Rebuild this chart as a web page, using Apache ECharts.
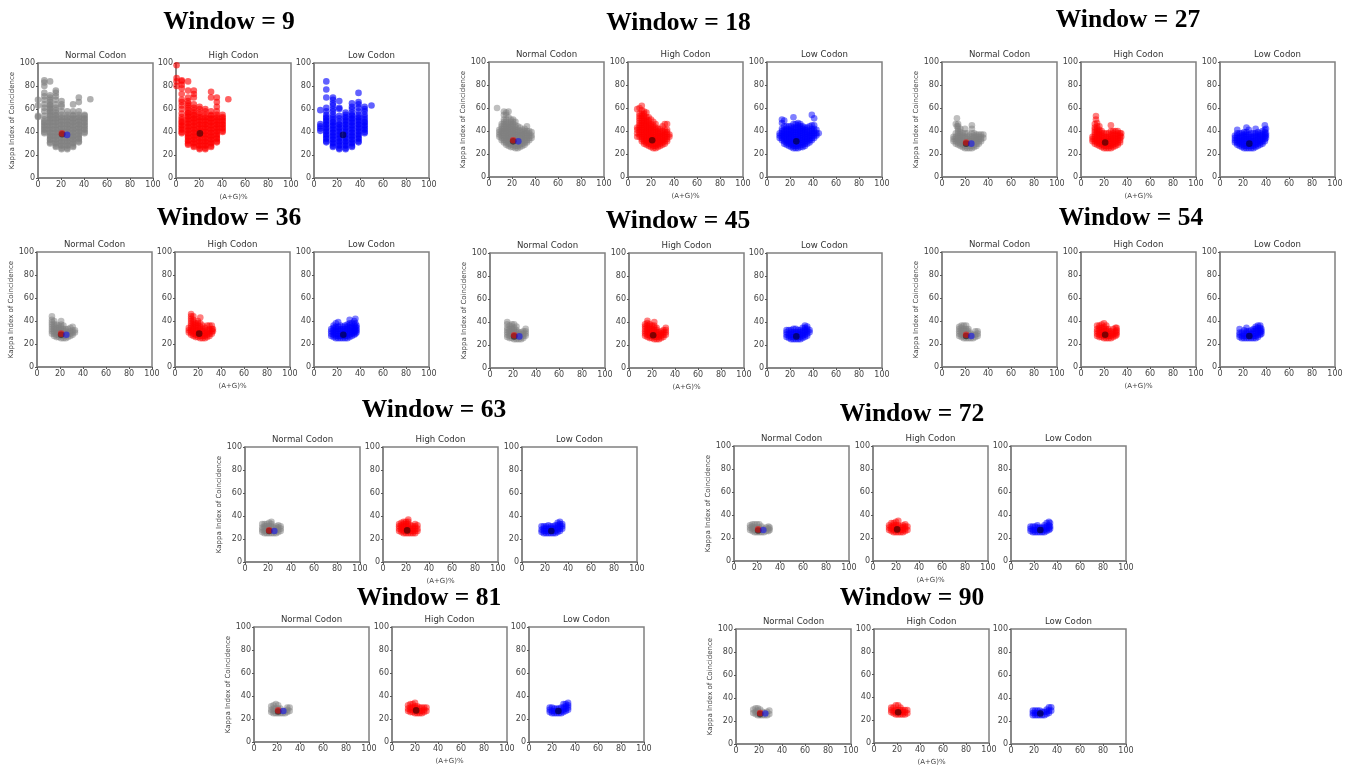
<!DOCTYPE html>
<html><head><meta charset="utf-8">
<style>html,body{margin:0;padding:0;background:#fff}#c{width:1350px;height:767px}</style>
<script src="https://cdn.jsdelivr.net/npm/echarts@6/dist/echarts.min.js"></script>
</head><body><div id="c"></div>
<script>
// Each column: [x, y, y, y, ...].
const w9Normal=[[0,53,54,63,68],[5.5,39,40,42,43,45,46,48,49,51,54,58,61,64,68,71,74,80,83,85],
[10.5,30,31,33,34,36,37,39,40,42,43,45,46,48,49,51,52,54,55,57,58,60,61,63,64,66,68,70,72,84],
[15.5,27,28,30,31,33,34,36,37,39,40,42,43,45,46,48,49,51,52,54,55,57,59,61,64,68,71,74,76],
[20.5,25,26,28,29,31,32,34,35,37,38,40,41,43,44,46,47,49,50,52,53,55,58,62,64,67],
[25.5,25,26,28,29,31,32,34,35,37,38,40,41,43,44,46,47,49,50,52,53,55,58],
[30.5,27,28,30,31,33,34,36,37,39,40,42,43,45,46,48,49,51,52,54,55,58,64],
[35.5,31,32,34,35,37,38,40,41,43,44,46,47,49,50,52,53,55,58,66,70],
[40.5,39,40,42,43,45,46,48,49,51,52,54,55],[45.5,68.5]];
const w9High=[[0.5,80,84,87,98],[5,39,40,42,43,45,46,48,49,51,53,56,60,63,66,68,73,78,81,84,85],
[10.5,29,30,32,33,35,36,38,39,41,42,44,45,47,48,50,51,53,54,56,57,59,61,63,65,67,70,76,84],
[15.5,27,28,30,31,33,34,36,37,39,40,42,43,45,46,48,49,51,52,54,55,57,59,61,64,70,73,76],
[20.5,25,26,28,29,31,32,34,35,37,38,40,41,43,44,46,47,49,50,52,53,55,57,60,62],
[25.5,25,26,28,29,31,32,34,35,37,38,40,41,43,44,46,47,49,50,52,53,55,58,60],
[30.5,27,28,30,31,33,34,36,37,39,40,42,43,45,46,48,49,51,52,54,55,58,70,75],
[35.5,31,32,34,35,37,38,40,41,43,44,46,47,49,50,52,53,55,58,62,66,70],
[40.5,40,41,43,44,46,47,49,50,52,53,55],[45.5,68.5]];
const w9Low=[[5.5,41,43,45,47,59],[10.7,31,32,34,35,37,38,40,41,43,44,46,47,49,50,52,53,55,58,61,70,77,84],
[16.5,27,28,30,31,33,34,36,37,39,40,42,43,45,46,48,49,51,53,55,58,60,63,65,68,70],
[22,25,26,28,29,31,32,34,35,37,38,40,41,43,44,46,47,49,52,54,60,61,67],
[27.5,25,26,28,29,31,32,34,35,37,38,40,41,43,44,46,47,49,50,52,53,55,57],
[33,27,28,30,31,33,34,36,37,39,40,42,43,45,46,48,49,51,52,54,55,57,60,62,65],
[38.7,31,32,34,35,37,38,40,41,43,44,46,47,49,50,52,53,55,58,61,64,66,74],
[44,39,40,42,43,45,46,48,49,51,53,55,58,60,62],[50,63]];
const w18Normal=[[7,60],[9,35,37,39,41],[11,32,34,36,38,40,42,44,46],[13,30,32,34,36,38,40,42,44,46,48,50,54,57],
[15,28,30,32,34,36,38,40,42,44,46,48,50,54,56],[17,27,29,31,33,35,37,39,41,43,45,47,52,57],
[19,26,28,30,32,34,36,38,40,42,44,46,48,50],[21,26,28,30,32,34,36,38,40,42,44,46,48,50],
[23,25,27,29,31,33,35,37,39,41,43,45,48],[25,25,27,29,31,33,35,37,39,41,44],[27,26,28,30,32,34,36,38,40,43],
[29,27,29,31,33,35,37,39,41],[31,28,30,32,34,36,38,40,42],[33,30,32,34,36,38,40,44],[35,32,34,36,38,40],[37,34,36,39]];
const w18High=[[8,35,38,41,43,59],[10,35,37,39,41,43,45,47,49,51,53,55,60],[12,31,33,35,37,39,41,43,45,47,49,51,53,55,58,62],
[14,29,31,33,35,37,39,41,43,45,47,49,51,53,55,57],[16,28,30,32,34,36,38,40,42,44,46,48,50,52,56],
[18,27,29,31,33,35,37,39,41,43,45,47,49,52],[20,26,28,30,32,34,36,38,40,42,44,46,50],[22,25,27,29,31,33,35,37,39,41,43,45,48],
[24,25,27,29,31,33,35,37,39,41,43,46],[26,26,28,30,32,34,36,38,40,42],[28,27,29,31,33,35,37,39,42],
[30,28,30,32,34,36,38,40,44],[32,29,31,33,35,37,39,41,46],[34,31,33,35,37,39,41,46],[36,35,37]];
const w18Low=[[11,34,36,38],[13,32,34,36,38,40,42,47,50],[15,29,31,33,35,37,39,41,44,49],[17,28,30,32,34,36,38,40,42,44],
[19,27,29,31,33,35,37,39,41,44],[21,26,28,30,32,34,36,38,40,42,44],[23,25,27,29,31,33,35,37,39,41,43,46,52],
[25,25,27,29,31,33,35,37,39,41,43,46],[27,25,27,29,31,33,35,37,39,41,43,45,47],[29,26,28,30,32,34,36,38,40,42,44,46],
[31,26,28,30,32,34,36,38,40,42,44],[33,27,29,31,33,35,37,39,41,43],[35,29,31,33,35,37,39,41,43],[37,30,32,34,36,38,40,44],
[39,32,34,36,38,40,42,45,54],[41,34,36,38,40,42,45,51],[43,36,38,41],[45,38]];
const w27Normal=[[10,31,33,35],[12,29,31,33,35,38,46],[13,44,51],[14,28,30,32,34,36,38,40,42,44,46],[16,27,29,31,33,35,37,39,42],
[18,26,28,30,32,34,36,38],[20,25,27,29,31,33,35,38,42],[22,25,27,29,31,33,35,38],[24,25,27,29,31,33,36],
[26,25,27,29,31,33,35,38,42,45],[28,26,28,30,32,34,36,38],[30,27,29,31,33,35,37],[32,29,31,33,35,37],[34,31,33,35,37],[36,34,37]];
const w27High=[[10,31,33,35],[12,29,31,33,35,37,39,41,43,46],[13,50,53],[14,28,30,32,34,36,38,40,42,44,47],[16,27,29,31,33,35,37,39,41,44],
[18,26,28,30,32,34,36,38,40],[20,25,27,29,31,33,35,38],[22,25,27,29,31,33,35,38],[24,25,27,29,31,33,35,38],
[26,25,27,29,31,33,35,37,40,45],[28,26,28,30,32,34,36,38,40],[30,27,29,31,33,35,37,40],[32,28,30,32,34,36,38,40],[34,30,32,34,36,38],[35,35,38]];
const w27Low=[[13,30,32,34,36],[15,28,30,32,34,36,38,41],[17,27,29,31,33,35,38],[19,26,28,30,32,34,36,38],[21,25,27,29,31,33,35,37,39],
[23,25,27,29,31,33,35,37,39,43],[25,25,27,29,31,33,35,37,41],[27,25,27,29,31,33,35,38],[29,25,27,29,31,33,35,38],
[31,26,28,30,32,34,36,38,42],[33,27,29,31,33,35,37,39],[35,28,30,32,34,36,38],[37,29,31,33,35,37,40],[39,31,33,35,37,39,41,45],[40,34,36,38,42]];
const w36Normal=[[13,29,31,33,35,37,39,41,44],[15,27,29,31,33,35,37,40],[17,26,28,30,32,34,37],[19,26,28,30,32,34,36],
[21,25,27,29,31,33,35,37,40],[23,25,27,29,31,33,36],[25,25,27,29,31,33],[27,26,28,30,33],[29,27,29,31,34],[31,28,30,32,35],[33,30,32]];
const w36High=[[12,30,32,34],[14,28,30,32,34,36,38,40,42,44,46],[16,27,29,31,33,35,37,39,41,44],[18,26,28,30,32,34,36,38],
[20,26,28,30,32,34,36,38,40],[22,25,27,29,31,33,35,38,43],[24,25,27,29,31,33,36],[26,25,27,29,31,34],[28,26,28,30,32,36],
[30,27,29,31,33,36],[32,29,31,33,36],[33,31,33]];
const w36Low=[[15,27,29,31,33],[17,26,28,30,32,34,36],[19,25,27,29,31,33,35,38],[21,25,27,29,31,33,35,39],[23,25,27,29,31,33,36],
[25,25,27,29,31,33,35],[27,25,27,29,31,33,36],[29,25,27,29,31,33,35,37],[31,26,28,30,32,34,36,38,41],[33,27,29,31,33,35,38],
[35,28,30,32,34,37,40],[36,29,31,33,35,38,42],[37,30,32,34,36]];
const w45Normal=[[15,27,29,31,33,35,38,40],[17,26,28,30,32,34,37],[19,26,28,30,32,34,36,38],[21,25,27,29,31,33,35,38],
[23,25,27,29,31,33,36],[25,25,27,29,31],[27,25,27,29,31],[29,26,28,30,32],[31,28,30,32,34]];
const w45High=[[14,28,30,32,34,36,38],[16,27,29,31,33,35,37,39,41],[18,26,28,30,32,34,36,38],[20,26,28,30,32,34,37],
[22,25,27,29,31,33,35,37,40],[24,25,27,29,31,33,35],[26,25,27,29,31],[28,26,28,30,32],[30,27,29,31,33],[32,29,31,33,35]];
const w45Low=[[17,27,29,31,33],[19,26,28,30,33],[21,25,27,29,31,33],[23,25,27,29,31,34],[25,25,27,29,31,34],[27,25,27,29,31,33],
[29,25,27,29,31,33],[31,26,28,30,32,35],[33,27,29,31,33,35,37],[35,28,30,32,34,36],[37,31,33]];
const w54Normal=[[15,27,29,31,33,35],[17,26,28,30,32,34,36],[19,25,27,29,31,33,36],[21,25,27,29,31,33,36],[23,25,27,29,31,33],
[25,25,27,29],[27,25,28],[29,26,28,31],[31,27,29,31]];
const w54High=[[14,27,29,31,33,36],[16,26,28,30,32,34,36],[18,26,28,30,32,34,37],[20,25,27,29,31,33,35,38],[22,25,27,29,31,33,36],
[24,25,27,29,31,33],[26,25,27,29,31],[28,26,28,30,33],[30,27,29,31,34],[31,28,30,32,34]];
const w54Low=[[17,26,28,30,33],[19,25,27,30],[21,25,27,29,32],[23,25,27,29,31,34],[25,25,27,29,31],[27,25,27,29,32],[29,25,27,29,31,33],
[31,25,27,29,31,33,35],[33,26,28,30,32,34,36],[35,28,30,32,34,36],[36,29,31,33]];
const w63Normal=[[15,26,28,30,33],[17,25,27,29,31,33],[19,25,27,29,31,33],[21,25,27,29,31,34],[23,25,27,29,31,33,35],[25,25,27,30],[27,25,27,29,31],[29,26,28,30,32],[31,27,29,31]];
const w63High=[[14,27,29,31,33],[16,26,28,30,32,34],[18,25,27,29,31,33,35],[20,25,27,29,31,33,35],[22,25,27,29,31,33,35,37],[24,25,27,29,32],[26,25,27,29,31],[28,25,27,29,31,33],[30,27,29,32]];
const w63Low=[[17,26,28,31],[19,25,27,29,31],[21,25,27,29,31],[23,25,27,29,32],[25,25,27,29,31],[27,25,27,29,31],[29,25,27,29,32],[31,26,28,30,32,34],[33,27,29,31,33,35],[35,29,31,33]];
const w72Normal=[[14,27,29,31],[16,26,28,30,32],[18,25,27,29,32],[20,25,27,29,32],[22,25,27,29,32],[24,25,27,30],[26,25,28],[28,26,29],[30,26,28,30],[31,27,29]];
const w72High=[[14,27,29,31],[16,26,28,30,33],[18,25,27,29,31,33],[20,25,27,29,31,34],[22,25,27,29,31,35],[24,25,27,30],[26,25,27,29,31],[28,26,28,30,32],[30,27,30]];
const w72Low=[[17,26,28,30],[19,25,27,30],[21,25,27,30],[23,25,27,29,31],[25,25,27,29],[27,25,27,29],[29,25,27,29,31],[31,26,28,30,33],[33,27,29,31,34],[34,28,30,33]];
const w81Normal=[[15,26,28,31],[17,25,27,29,32],[19,25,27,29,33],[21,25,27,29,32],[23,25,27,29],[25,25,27],[27,25,27],[29,26,28,30],[31,27,30]];
const w81High=[[14,27,29,32],[16,26,28,30,33],[18,26,28,30,33],[20,25,27,29,31,34],[22,25,27,29,31],[24,25,27,30],[26,25,27,30],[28,26,28,30],[30,27,30]];
const w81Low=[[18,26,28,30],[20,25,27,30],[22,25,27,29],[24,25,27,29],[26,25,27,29],[28,25,27,30],[30,26,28,30,33],[32,27,29,31,33],[34,28,30,32,34]];
const w90Normal=[[15,27,30],[17,26,28,31],[19,25,27,29,31],[21,25,27,30],[23,25,28],[25,25,27],[27,25,28],[29,26,29]];
const w90High=[[15,27,29,31],[17,26,28,31],[19,25,27,29,33],[21,25,27,29,33],[23,25,27,29,31],[25,25,27,29],[27,25,27,29],[29,26,29]];
const w90Low=[[19,25,27,29],[21,25,27,29],[23,25,27,29],[25,25,27,29],[27,25,28],[29,25,28],[31,26,28,30],[33,27,29,32],[35,29,32]];

const windowNames=[9,18,27,36,45,54,63,72,81,90];
const panelTitles=['Normal Codon','High Codon','Low Codon'];
const panelColors=['#808080','#ff0000','#0000ff'];
const clouds=[[w9Normal,w9High,w9Low],[w18Normal,w18High,w18Low],[w27Normal,w27High,w27Low],[w36Normal,w36High,w36Low],[w45Normal,w45High,w45Low],
[w54Normal,w54High,w54Low],[w63Normal,w63High,w63Low],[w72Normal,w72High,w72Low],[w81Normal,w81High,w81Low],[w90Normal,w90High,w90Low]];
const normalMeanY=[38,31,29,28,27.5,27,27,26.5,26.5,26];
const normalMeanX=[21,21,21,21,21,21,21,21,21,21];
const highMeanX=[20.8,21,21,21,21,21,21,21,21,21];
const highMeanY=[38.8,32,30,29,28.5,28,27.5,27.5,27.5,27];
const lowMeanX=[25.3,25.5,25.5,25.5,25.5,25.5,25.5,25.5,25.5,25.5];
const lowMeanY=[37.5,31,29,28,27.5,27,27,27,27,26.5];

// Layout: big-title centre x/y, panel lefts, top.
const titleX=[229,678.5,1128,229,678,1131,434,912,429,912];
const titleY=[23,24,21,219,222,219,411,415,599,599];
const lefts=[[38,176,314],[489,628,767],[942,1081,1220],[37,175,314],[490,629,767],[942,1081,1220],[245,383,522],[734,873,1011],[254,392,529],[736,874,1011]];
const tops=[63,62,62,252,253,252,447,446,627,629];
const W=115,H=115;

const expand=cols=>cols.flatMap(c=>c.slice(1).map(y=>[c[0],y]));
const titles=[],grids=[],xs=[],ys=[],series=[];
const scatter=(i,data,color,op,size)=>series.push({type:'scatter',xAxisIndex:i,yAxisIndex:i,data,symbol:'circle',symbolSize:size,silent:true,
  itemStyle:{color,opacity:op,borderWidth:0},animation:false,clip:false});
windowNames.forEach((w,r)=>{
  titles.push({text:'Window = '+w,left:titleX[r],top:titleY[r]-14,textAlign:'center',padding:0,
    textStyle:{fontFamily:'Liberation Serif',fontWeight:'bold',fontSize:25.5,color:'#000'}});
  panelTitles.forEach((t,p)=>{
    const i=grids.length, l=lefts[r][p], tp=tops[r];
    titles.push({text:t,left:l+W/2,top:tp-12,textAlign:'center',padding:0,
      textStyle:{fontFamily:'DejaVu Sans',fontWeight:'normal',fontSize:8.6,color:'#333'}});
    grids.push({left:l,top:tp,width:W,height:H,show:true,borderColor:'#808080',borderWidth:1.5,backgroundColor:'#fff'});
    const lab={fontFamily:'DejaVu Sans',fontSize:8,color:'#444',margin:3};
    const ax={min:0,max:100,interval:20,splitLine:{show:false},axisLine:{show:true,onZero:false,lineStyle:{color:'#808080',width:1.5}},
      axisTick:{show:true,length:2,lineStyle:{color:'#555',width:1}},axisLabel:lab,
      nameLocation:'middle',nameTextStyle:{fontFamily:'DejaVu Sans',fontSize:7,color:'#444'}};
    xs.push({...ax,type:'value',gridIndex:i,name:p===1?'(A+G)%':'',nameGap:16});
    ys.push({...ax,type:'value',gridIndex:i,name:p===0?'Kappa Index of Coincidence':'',nameGap:22});
    scatter(i,expand(clouds[r][p]),panelColors[p],r===0?0.62:0.5,6.6);
    if(p===0){
      scatter(i,[[normalMeanX[r],normalMeanY[r]]],'#000',0.5,6.6);
      scatter(i,[[highMeanX[r],highMeanY[r]]],'#ff0000',0.5,6.6);
      scatter(i,[[lowMeanX[r],lowMeanY[r]]],'#0000ff',0.5,6.6);
    } else if(p===1){
      scatter(i,[[highMeanX[r],highMeanY[r]]],'#000',0.5,6.6);
    } else {
      scatter(i,[[lowMeanX[r],lowMeanY[r]]],'#000',0.5,6.6);
    }
  });
});
const chart=echarts.init(document.getElementById('c'),null,{renderer:'canvas'});
chart.setOption({animation:false,backgroundColor:'#fff',title:titles,grid:grids,xAxis:xs,yAxis:ys,series,tooltip:{show:false}});
</script></body></html>
